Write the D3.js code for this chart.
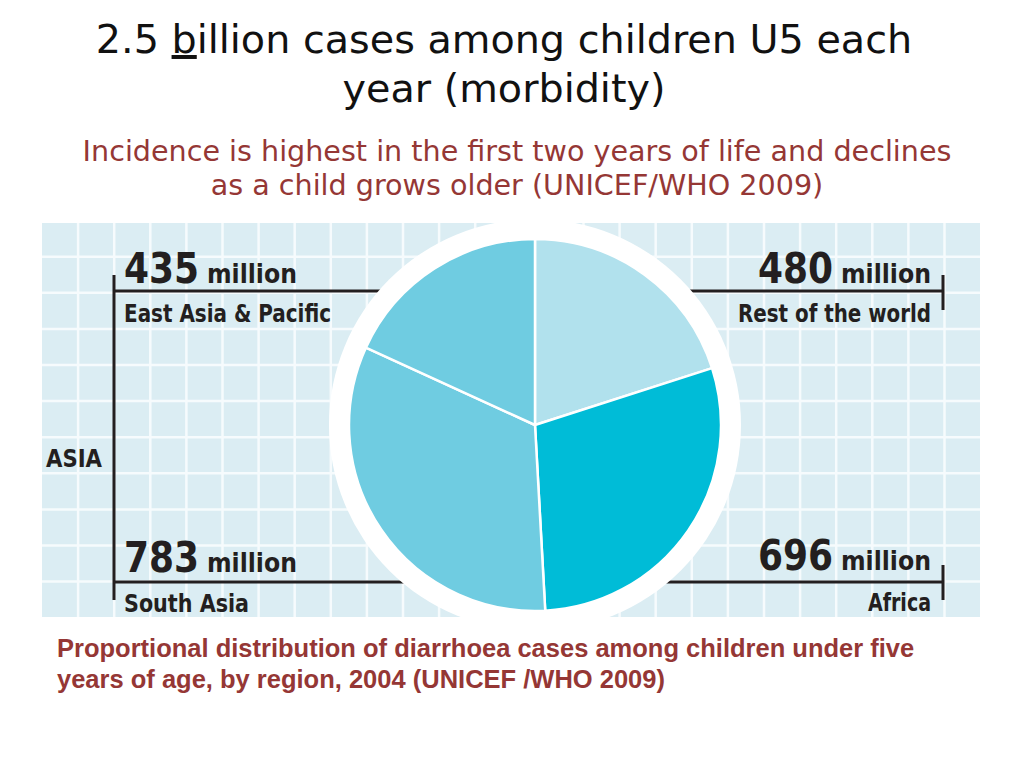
<!DOCTYPE html>
<html>
<head>
<meta charset="utf-8">
<script src="https://cdn.jsdelivr.net/npm/d3@7"></script>
<style>
  html, body { margin: 0; padding: 0; background: #ffffff; }
  svg { display: block; }
</style>
</head>
<body>
<svg id="chart" width="1024" height="768"></svg>
<script>
// ---- data ----
const regions = ["Rest of the world", "Africa", "South Asia", "East Asia & Pacific"];
const cases = [480, 696, 783, 435];           // million cases
const sliceColors = ["#b1e1ed", "#00bcd7", "#6fcce1", "#6fcce1"];
const titleLines = ["2.5 billion cases among children U5 each", "year (morbidity)"];
const subtitleLines = ["Incidence is highest in the first two years of life and declines",
                       "as a child grows older (UNICEF/WHO 2009)"];
const footerLines = ["Proportional distribution of diarrhoea cases among children under five",
                     "years of age, by region, 2004 (UNICEF /WHO 2009)"];

const svg = d3.select("#chart");
const ink = "#231f20";
const red = "#953735";
const labelFont = "'DejaVu Sans Condensed', 'Liberation Sans Narrow', 'Roboto', sans-serif";

// ---- title ----
const t1 = svg.append("text").attr("x", 504).attr("y", 53).attr("text-anchor", "middle")
  .style("font-family", "'DejaVu Sans', Verdana, sans-serif").style("font-size", "39.7px").attr("fill", "#111");
t1.append("tspan").text("2.5 ");
t1.append("tspan").text("b").style("text-decoration", "underline");
t1.append("tspan").text(titleLines[0].slice(5));
svg.append("text").attr("x", 504).attr("y", 102).attr("text-anchor", "middle")
  .style("font-family", "'DejaVu Sans', Verdana, sans-serif").style("font-size", "39.7px").attr("fill", "#111")
  .text(titleLines[1]);

// ---- subtitle ----
svg.selectAll("text.sub").data(subtitleLines).join("text").attr("class", "sub")
  .attr("x", 517).attr("y", (d, i) => 161 + i * 34).attr("text-anchor", "middle")
  .style("font-family", "'DejaVu Sans', Verdana, sans-serif").style("font-size", "28.6px")
  .attr("fill", red).text(d => d);

// ---- grid panel ----
const panel = { x0: 42, x1: 980, y0: 223, y1: 617 };
const cell = 36.1;
svg.append("rect").attr("x", panel.x0).attr("y", panel.y0)
  .attr("width", panel.x1 - panel.x0).attr("height", panel.y1 - panel.y0).attr("fill", "#dbedf3");
const g = svg.append("g").attr("stroke", "#f6fbfd").attr("stroke-width", 2.5);
g.selectAll("line.v").data(d3.range(panel.x0 + cell, panel.x1, cell)).join("line")
  .attr("x1", d => d).attr("x2", d => d).attr("y1", panel.y0).attr("y2", panel.y1);
g.selectAll("line.h").data(d3.range(256.7, panel.y1, cell)).join("line")
  .attr("x1", panel.x0).attr("x2", panel.x1).attr("y1", d => d).attr("y2", d => d);

// ---- pie geometry ----
const cx = 535, cy = 425, r = 186, ring = 206;

// ---- leader lines ----
const lines = svg.append("g").attr("stroke", ink).attr("stroke-width", 3).attr("fill", "none");
lines.append("path").attr("d", `M114,275 L114,600`);
lines.append("path").attr("d", `M114,291 L${cx},291`);
lines.append("path").attr("d", `M114,582 L${cx},582`);
lines.append("path").attr("d", `M${cx},291 L944,291`);
lines.append("path").attr("d", `M943,275 L943,310`);
lines.append("path").attr("d", `M${cx},582 L944,582`);
lines.append("path").attr("d", `M943,565 L943,600`);

// white ring
svg.append("circle").attr("cx", cx).attr("cy", cy).attr("r", ring).attr("fill", "#ffffff");

// ---- pie ----
const pie = d3.pie().sort(null).value(d => d)(cases);
const arc = d3.arc().innerRadius(0).outerRadius(r);
svg.append("g").attr("transform", `translate(${cx},${cy})`)
  .selectAll("path").data(pie).join("path")
  .attr("d", arc).attr("fill", (d, i) => sliceColors[i])
  .attr("stroke", "#ffffff").attr("stroke-width", 2.5).attr("stroke-linejoin", "round");

// ---- labels ----
// name widths (px) read from the reference layout
const nameWidth = { "Rest of the world": 193, "Africa": 63, "South Asia": 125, "East Asia & Pacific": 207 };
const labels = [
  { i: 3, x: 124, y: 283, anchor: "start", nameY: 322 },
  { i: 2, x: 124, y: 572, anchor: "start", nameY: 612 },
  { i: 0, x: 931, y: 283, anchor: "end", nameY: 322 },
  { i: 1, x: 931, y: 570, anchor: "end", nameY: 611 }
];
const numW = 75, milW = 90, gap = 8;
function label(x, y, size, w, txt) {
  svg.append("text").attr("x", x).attr("y", y)
    .style("font-family", labelFont).style("font-weight", "bold").style("font-size", size + "px")
    .attr("fill", ink).attr("textLength", w).attr("lengthAdjust", "spacingAndGlyphs").text(txt);
}
labels.forEach(l => {
  const numX = l.anchor === "start" ? l.x : l.x - milW - gap - numW;
  const milX = numX + numW + gap;
  label(numX, l.y, 42, numW, String(cases[l.i]));
  label(milX, l.y, 27, milW, "million");
  const nw = nameWidth[regions[l.i]];
  label(l.anchor === "start" ? l.x : l.x - nw, l.nameY, 24, nw, regions[l.i]);
});
label(46, 467, 25, 56, "ASIA");

// ---- footer ----
svg.selectAll("text.foot").data(footerLines).join("text").attr("class", "foot")
  .attr("x", 57).attr("y", (d, i) => 657 + i * 31)
  .style("font-family", "'Liberation Sans', Arial, sans-serif").style("font-weight", "bold")
  .style("font-size", "25.5px").attr("fill", red).text(d => d);
</script>
</body>
</html>
